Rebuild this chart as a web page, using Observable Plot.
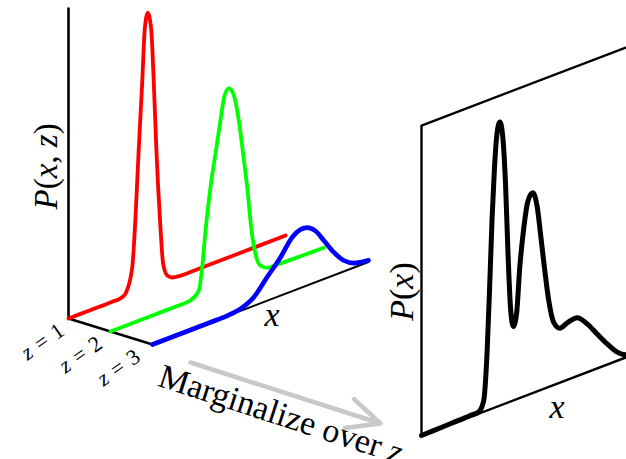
<!DOCTYPE html>
<html><head><meta charset="utf-8">
<script src="https://cdn.jsdelivr.net/npm/d3@7"></script>
<script src="https://cdn.jsdelivr.net/npm/@observablehq/plot@0.6"></script>
<style>
body{margin:0;background:#fff}
#chart svg{display:block;overflow:hidden}
</style>
</head><body><div id="chart"></div>
<script>
// ---------- data ----------
const zLevels = [1, 2, 3];
const zLabels = ["z\u2004=\u20041", "z\u2004=\u20042", "z\u2004=\u20043"];
const seriesColors = ["#ff0000", "#00ff00", "#0000ff"];

// P(x, z=1)
const redX = [0, 1, 2, 2.45, 2.64, 2.95, 3.10, 3.25, 3.41, 3.53, 3.67, 3.83, 3.95, 4.07, 4.23, 4.38, 4.57, 4.80, 5.2, 6, 8, 10.05];
const redP = [0, 0, 0, 0.002, 0.011, 0.096, 0.27, 0.51, 0.744, 0.935, 0.99, 0.925, 0.728, 0.483, 0.238, 0.068, 0.019, 0.005, 0, 0, 0, 0];
// P(x, z=2)
const greenX = [0, 1, 2, 3, 3.4, 3.70, 4.09, 4.245, 4.40, 4.63, 4.86, 5.09, 5.28, 5.48, 5.71, 5.94, 6.14, 6.33, 6.53, 6.71, 6.94, 7.25, 7.72, 8.5, 9.2, 9.88];
const greenP = [0, 0, 0, 0, 0, 0.002, 0.026, 0.105, 0.233, 0.382, 0.495, 0.608, 0.692, 0.712, 0.68, 0.583, 0.457, 0.331, 0.169, 0.080, 0.031, 0.014, 0.012, 0.01, 0.009, 0.008];
// P(x, z=3)
const blueX = [0, 1, 2, 3, 3.5, 4.07, 4.69, 5.31, 5.93, 6.47, 6.85, 7.16, 7.55, 7.93, 8.39, 8.86, 9.32, 10.0];
const blueP = [0, 0, 0, 0, 0.001, 0.0075, 0.031, 0.085, 0.138, 0.194, 0.21, 0.208, 0.184, 0.139, 0.083, 0.039, 0.016, 0.006];
// marginal P(x)
const margX = [0, 1, 2, 2.27, 2.65, 2.88, 3.04, 3.16, 3.27, 3.38, 3.50, 3.63, 3.76, 3.89, 4.00, 4.12, 4.25, 4.40, 4.55, 4.74, 4.92, 5.15, 5.36, 5.51, 5.69, 5.89, 6.12, 6.40, 6.75, 7.21, 7.67, 8.13, 8.60, 9.06, 9.44, 10];
const margP = [0, 0.002, 0.004, 0.005, 0.006, 0.040, 0.215, 0.452, 0.688, 0.865, 0.985, 1.02, 0.965, 0.790, 0.547, 0.339, 0.266, 0.307, 0.470, 0.609, 0.695, 0.72, 0.662, 0.562, 0.436, 0.311, 0.225, 0.196, 0.205, 0.21, 0.174, 0.124, 0.074, 0.031, 0.01, 0.003];

const leftYLabel = "P(x, z)";
const rightYLabel = "P(x)";
const xLabel = "x";
const arrowLabel = "Marginalize over z";

// ---------- oblique projection (layout) ----------
const W = 626, H = 459;
const unitX = [21.6, -8.25];   // screen step per x unit
const unitP = -278;            // screen step per probability unit
const stepZ = [42, 13];        // screen step per z level
const leftOrigin = [68, 318];
const rightOrigin = [421, 435];
const pTop = 1.115, xMax = 10;

const left = (x, z, p) => ({
  px: leftOrigin[0] + unitX[0] * x + stepZ[0] * (z - 1),
  py: leftOrigin[1] + unitX[1] * x + stepZ[1] * (z - 1) + unitP * p
});
const right = (x, p) => ({
  px: rightOrigin[0] + unitX[0] * x,
  py: rightOrigin[1] + unitX[1] * x + unitP * p
});
const shift = (pt, dx, dy) => ({px: pt.px + dx, py: pt.py + dy});

const curveSets = [[redX, redP], [greenX, greenP], [blueX, blueP]];
const curveRows = curveSets.map(([xs, ps], i) => xs.map((x, j) => left(x, zLevels[i], ps[j])));
const margRows = margX.map((x, j) => right(x, margP[j]));

const leftVAxis = [left(0, 1, 0), left(0, 1, pTop)];
const leftZAxis = [left(0, 1, 0), left(0, 3, 0)];
const leftXAxis = [left(0, 3, 0), left(xMax, 3, 0)];
const rightFrame = [right(xMax, pTop), right(0, pTop), right(0, 0), right(xMax, 0)];

const arrowStart = shift(left(0, 3, 0), 38, 18);
const arrowEnd = shift(right(0, 0), -41, -12);

const zText = zLevels.map((z, i) => ({...shift(left(0, z, 0), -26 - 4 * (z - 1), 23), t: zLabels[i]}));

const common = {x: "px", y: "py"};
const plot = Plot.plot({
  width: W, height: H,
  marginTop: 0, marginRight: 0, marginBottom: 0, marginLeft: 0,
  x: {domain: [0, W], range: [0, W], axis: null},
  y: {domain: [0, H], range: [0, H], axis: null},
  style: {fontFamily: "'Liberation Serif', serif", background: "#fff", color: "#000"},
  marks: [
    // left 3D axes
    Plot.line(leftXAxis, {...common, stroke: "#000", strokeWidth: 2}),
    Plot.line(leftVAxis, {...common, stroke: "#000", strokeWidth: 2.6}),
    Plot.line(leftZAxis, {...common, stroke: "#000", strokeWidth: 2.6}),
    // conditional curves
    Plot.line(curveRows[0], {...common, stroke: seriesColors[0], strokeWidth: 3.8, curve: "monotone-x"}),
    Plot.line(curveRows[1], {...common, stroke: seriesColors[1], strokeWidth: 3.8, curve: "monotone-x"}),
    Plot.line(curveRows[2], {...common, stroke: seriesColors[2], strokeWidth: 4.6, curve: "monotone-x"}),
    // right panel
    Plot.line(rightFrame, {...common, stroke: "#000", strokeWidth: 2.4, curve: "linear"}),
    Plot.line(margRows, {...common, stroke: "#000", strokeWidth: 5, curve: "monotone-x"}),
    // arrow
    Plot.arrow([{}], {x1: () => arrowStart.px, y1: () => arrowStart.py, x2: () => arrowEnd.px, y2: () => arrowEnd.py,
      stroke: "#c8c8c8", strokeWidth: 4.5, headLength: 12, headAngle: 50}),
    // texts
    Plot.text(zText, {...common, text: "t", rotate: -35, fontSize: 22, fill: "#000"}),
    Plot.text([shift(left(0, 1, 0.547), -22, 0)], {...common, text: () => leftYLabel, rotate: -90, fontSize: 33, fill: "#000"}),
    Plot.text([shift(left(5.54, 3, 0), 0, 16)], {...common, text: () => xLabel, fontSize: 34, fill: "#000"}),
    Plot.text([shift(right(0, 0.518), -19.5, 0)], {...common, text: () => rightYLabel, rotate: -90, fontSize: 34, fill: "#000"}),
    Plot.text([shift(right(6.27, 0), 0, 23)], {...common, text: () => xLabel, fontSize: 34, fill: "#000"}),
    Plot.text([shift(arrowStart, -34, 23)], {...common, text: () => arrowLabel, rotate: 18, textAnchor: "start", lineAnchor: "bottom", fontSize: 34, fill: "#000"})
  ]
});

// italicise single-letter math symbols (LaTeX style)
d3.select(plot).selectAll("text").each(function () {
  if (this.querySelector("tspan")) return;
  const s = this.textContent;
  const parts = s.split(/(\b[A-Za-z]\b)/).filter(p => p.length);
  this.textContent = "";
  for (const part of parts) {
    const ts = document.createElementNS("http://www.w3.org/2000/svg", "tspan");
    ts.textContent = part;
    if (/^[A-Za-z]$/.test(part)) ts.setAttribute("font-style", "italic");
    this.appendChild(ts);
  }
});

document.getElementById("chart").appendChild(plot);
</script>
</body></html>
